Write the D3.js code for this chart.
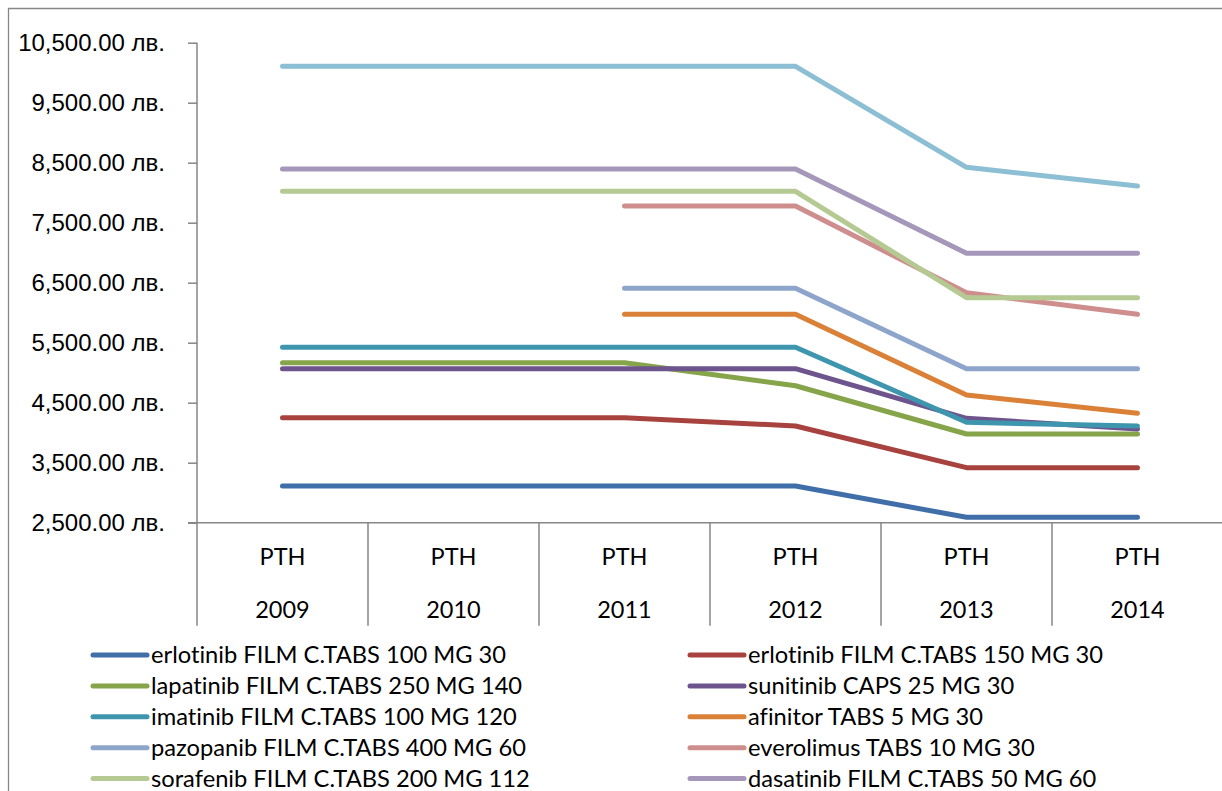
<!DOCTYPE html>
<html>
<head>
<meta charset="utf-8">
<script src="https://cdnjs.cloudflare.com/ajax/libs/d3/7.8.5/d3.min.js"></script>
<style>
  body { margin: 0; background: #fff; }
  svg { display: block; font-family: Lato, "Open Sans", sans-serif; font-variant-ligatures: none; }
  .axis path, .axis line { stroke: #868686; }
  .axis text { font-size: 23.5px; fill: #000; }
</style>
</head>
<body>
<div class="content"></div>
<script>
var size = {width: 1222, height: 791};
var plotBox = {left: 197, right: 1223, top: 42.7, bottom: 522.7};

var years = ["2009", "2010", "2011", "2012", "2013", "2014"];
var yTicks = [2500, 3500, 4500, 5500, 6500, 7500, 8500, 9500, 10500];

var names = [
    "erlotinib FILM C.TABS 100 MG 30",
    "erlotinib FILM C.TABS 150 MG 30",
    "lapatinib FILM C.TABS 250 MG 140",
    "sunitinib CAPS 25 MG 30",
    "imatinib FILM C.TABS 100 MG 120",
    "afinitor TABS 5 MG 30",
    "pazopanib FILM C.TABS 400 MG 60",
    "everolimus TABS 10 MG 30",
    "sorafenib FILM C.TABS 200 MG 112",
    "dasatinib FILM C.TABS 50 MG 60",
    null   // legend row cut off in the picture
];
var colors = ["#3F6EA8", "#A8423F", "#86A44A", "#6E548D", "#3D96AE", "#DA8137",
              "#8EA5CB", "#CE8E8D", "#B5CA92", "#A597BA", "#8CBFD3"];

// prices per year, null = no value that year
var erlotinib100 = [3112, 3112, 3112, 3112, 2590, 2590];
var erlotinib150 = [4250, 4250, 4250, 4112, 3417, 3417];
var lapatinib    = [5167, 5167, 5167, 4783, 3978, 3978];
var sunitinib    = [5067, 5067, 5067, 5067, 4240, 4062];
var imatinib     = [5423, 5423, 5423, 5423, 4173, 4112];
var afinitor     = [null, null, 5973, 5973, 4628, 4323];
var pazopanib    = [null, null, 6407, 6407, 5067, 5067];
var everolimus   = [null, null, 7778, 7778, 6333, 5973];
var sorafenib    = [8023, 8023, 8023, 8023, 6250, 6250];
var dasatinib    = [8395, 8395, 8395, 8395, 6990, 6990];
var topSeries    = [10107, 10107, 10107, 10107, 8423, 8112];

var series = [erlotinib100, erlotinib150, lapatinib, sunitinib, imatinib, afinitor,
              pazopanib, everolimus, sorafenib, dasatinib, topSeries];

var chart = d3.select('.content')
    .append('svg')
    .attr('width', size.width)
    .attr('height', size.height);

// outer chart frame (only top and left edges are in view)
chart.append('path')
    .attr('d', 'M8.5,' + size.height + 'V8.5H' + size.width)
    .attr('fill', 'none')
    .attr('stroke', '#868686')
    .attr('stroke-width', 1.3);

var xScale = d3.scaleBand()
    .domain(years)
    .range([plotBox.left, plotBox.right]);
var yScale = d3.scaleLinear()
    .domain([2500, 10500])
    .range([plotBox.bottom, plotBox.top]);

// y axis
var yAxis = d3.axisLeft(yScale)
    .tickValues(yTicks)
    .tickSize(9)
    .tickPadding(23)
    .tickFormat(function(d) { return d3.format(",.2f")(d) + " лв."; });
var yAxisObj = chart.append('g')
    .attr('class', 'axis')
    .attr('transform', 'translate(' + plotBox.left + ',0)')
    .call(yAxis);
yAxisObj.select('.domain').attr('d', 'M0,' + plotBox.top + 'V' + plotBox.bottom).attr('stroke-width', 1.5);
yAxisObj.selectAll('.tick line').attr('stroke-width', 1.5);
yAxisObj.selectAll('.tick text').style('font-size', '24px');

// x axis with category dividers and two-line labels
var xAxisObj = chart.append('g')
    .attr('class', 'axis')
    .attr('transform', 'translate(0,' + plotBox.bottom + ')');
xAxisObj.append('line')
    .attr('x1', plotBox.left - 9).attr('x2', size.width)
    .attr('stroke-width', 1.5);
xAxisObj.selectAll('line.divider')
    .data(years)
    .enter().append('line')
    .attr('class', 'divider')
    .attr('x1', function(d) { return xScale(d); })
    .attr('x2', function(d) { return xScale(d); })
    .attr('y1', 0).attr('y2', 103)
    .attr('stroke-width', 1.5);
var xLabels = xAxisObj.selectAll('g.cat')
    .data(years)
    .enter().append('g')
    .attr('class', 'cat')
    .attr('transform', function(d) { return 'translate(' + (xScale(d) + xScale.bandwidth() / 2) + ',0)'; });
xLabels.append('text')
    .attr('y', 34).attr('dy', '0.35em')
    .attr('text-anchor', 'middle')
    .text('PTH');
xLabels.append('text')
    .attr('y', 87).attr('dy', '0.35em')
    .attr('text-anchor', 'middle')
    .text(function(d) { return d; });

// lines
var line = d3.line()
    .defined(function(d) { return d != null; })
    .x(function(d, i) { return xScale(years[i]) + xScale.bandwidth() / 2; })
    .y(function(d) { return yScale(d); });

chart.append('g').selectAll('path.series')
    .data(series)
    .enter().append('path')
    .attr('class', 'series')
    .attr('d', line)
    .attr('fill', 'none')
    .attr('stroke', function(d, i) { return colors[i]; })
    .attr('stroke-width', 5)
    .attr('stroke-linecap', 'round')
    .attr('stroke-linejoin', 'round');

// legend, two columns
var legendItems = names.map(function(n, i) { return {name: n, color: colors[i], i: i}; })
    .filter(function(d) { return d.name != null; });
var legend = chart.append('g').selectAll('g.legend')
    .data(legendItems)
    .enter().append('g')
    .attr('class', 'legend')
    .attr('transform', function(d) {
        var col = d.i % 2, row = Math.floor(d.i / 2);
        return 'translate(' + (col === 0 ? 93 : 690) + ',' + (655 + row * 30.9) + ')';
    });
legend.append('line')
    .attr('x1', 0).attr('x2', 54)
    .attr('stroke', function(d) { return d.color; })
    .attr('stroke-width', 5)
    .attr('stroke-linecap', 'round');
legend.append('text')
    .attr('x', 58).attr('dy', '0.35em')
    .style('font-size', '23.7px')
    .text(function(d) { return d.name; });
</script>
</body>
</html>
